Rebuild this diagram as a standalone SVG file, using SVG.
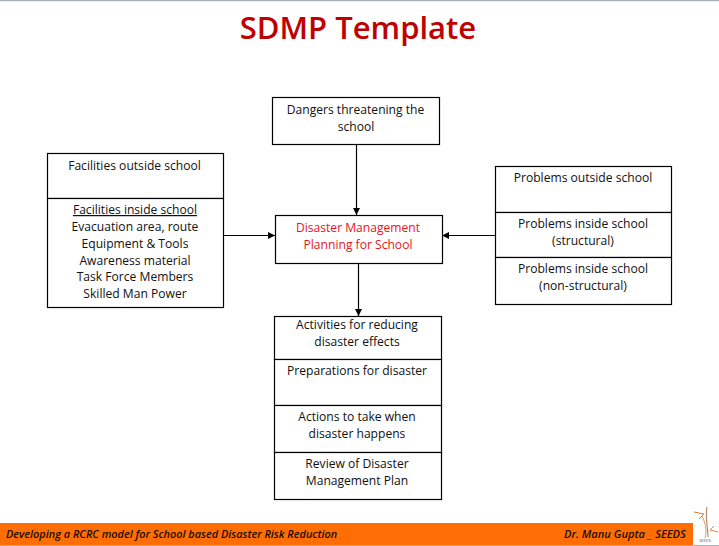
<svg xmlns="http://www.w3.org/2000/svg" width="719" height="546" viewBox="0 0 719 546">
<style>
text{font-family:"Open Sans","Noto Sans","Liberation Sans",sans-serif;font-size:12.1px;fill:#111;text-anchor:middle}
.box{fill:#fff;stroke:#000;stroke-width:1.2}
.line{fill:none;stroke:#000;stroke-width:1.2}
.foot{font-style:italic;font-weight:600;font-size:10.9px;text-anchor:start;fill:#1a0d00}
.red{fill:#e8141c}
</style>
<defs><marker id="arrow" markerWidth="8" markerHeight="8" refX="7" refY="3.5" orient="auto" markerUnits="userSpaceOnUse"><path d="M0 0L7 3.500L0 7Z" fill="#000"/></marker></defs>
<rect width="719" height="546" fill="#fff"/>
<rect x="0" y="0" width="719" height="1.2" fill="#a9afb8"/>
<text x="358" y="38.500" style="font-size:31px;font-weight:600;fill:#c00000">SDMP Template</text>
<g id="connectors">
<path class="line" d="M356.500 144V215" marker-end="url(#arrow)"/>
<path class="line" d="M223 235.500H275" marker-end="url(#arrow)"/>
<path class="line" d="M495 235.500H442" marker-end="url(#arrow)"/>
<path class="line" d="M358.500 264V316" marker-end="url(#arrow)"/>
</g>
<g id="dangers"><rect class="box" x="272.500" y="97.500" width="167" height="47"/><text x="355.500" y="114">Dangers threatening the</text><text x="356" y="131">school</text></g>
<g id="facilities-outside"><rect class="box" x="47.500" y="153.500" width="176" height="45"/><text x="134.500" y="170">Facilities outside school</text></g>
<g id="facilities-inside"><rect class="box" x="47.500" y="198.500" width="176" height="109"/><text x="135" y="214" text-decoration="underline">Facilities inside school</text><text x="135" y="231">Evacuation area, route</text><text x="135" y="248">Equipment &amp; Tools</text><text x="135" y="265">Awareness material</text><text x="135" y="281">Task Force Members</text><text x="135" y="298">Skilled Man Power</text></g>
<g id="planning"><rect class="box" x="275.500" y="215.500" width="167" height="48"/><text class="red" x="358" y="232">Disaster Management</text><text class="red" x="358" y="249">Planning for School</text></g>
<g id="problems-outside"><rect class="box" x="495.500" y="166.500" width="176" height="46"/><text x="583" y="182">Problems outside school</text></g>
<g id="problems-structural"><rect class="box" x="495.500" y="212.500" width="176" height="45"/><text x="583" y="228">Problems inside school</text><text x="583" y="245">(structural)</text></g>
<g id="problems-nonstructural"><rect class="box" x="495.500" y="257.500" width="176" height="47"/><text x="583" y="273">Problems inside school</text><text x="583" y="290">(non-structural)</text></g>
<g id="activities"><rect class="box" x="274.500" y="316.500" width="167" height="43"/><text x="357" y="329">Activities for reducing</text><text x="357" y="346">disaster effects</text></g>
<g id="preparations"><rect class="box" x="274.500" y="359.500" width="167" height="46"/><text x="357" y="375">Preparations for disaster</text></g>
<g id="actions"><rect class="box" x="274.500" y="405.500" width="167" height="47"/><text x="357" y="421">Actions to take when</text><text x="357" y="438">disaster happens</text></g>
<g id="review"><rect class="box" x="274.500" y="452.500" width="167" height="47"/><text x="357" y="468">Review of Disaster</text><text x="357" y="485">Management Plan</text></g>
<rect x="0" y="523" width="693" height="22" fill="#ff6d05"/>
<rect x="0" y="545" width="719" height="1" fill="#a9afb8"/>
<text class="foot" x="6" y="538">Developing a RCRC model for School based Disaster Risk Reduction</text>
<text class="foot" x="564" y="538" style="font-size:11.1px">Dr. Manu Gupta _ SEEDS</text>
<g fill="none" stroke-width="1">
<path d="M702 516C706 524 707 532 705 538" stroke="#d9a066"/><path d="M707 507C705 517 708 528 708 537" stroke="#b5734a"/>
<path d="M694 512L704 514M699 519L704 514" stroke="#e87722"/><path d="M718 532L710 530M714 526L710 530" stroke="#f08a24"/>
</g>
<text x="705" y="542" style="font-size:4px;fill:#7a4a30">SEEDS</text>
</svg>
